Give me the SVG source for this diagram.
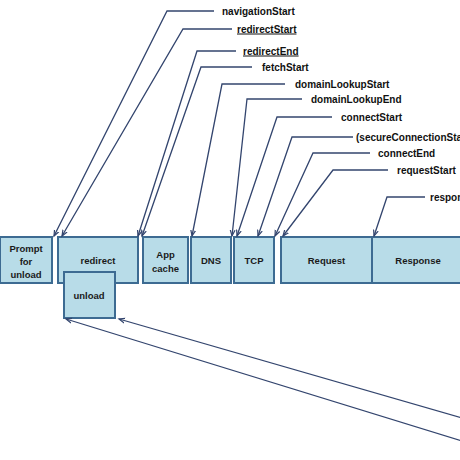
<svg xmlns="http://www.w3.org/2000/svg" width="460" height="460" viewBox="0 0 460 460">
<style>
.box{fill:#b8dce8;stroke:#3d6b92;stroke-width:2}
.bl{font-family:"Liberation Sans",Arial,sans-serif;font-weight:bold;font-size:9.5px;fill:#1a1a1a;text-anchor:middle}
.lb{font-family:"Liberation Sans",Arial,sans-serif;font-weight:bold;font-size:10px;fill:#111}
.u{text-decoration:underline}
.c{fill:none;stroke:#33456e;stroke-width:1.3;marker-end:url(#ah)}
</style>
<defs>
<marker id="ah" markerUnits="userSpaceOnUse" markerWidth="8" markerHeight="8" refX="6" refY="3" orient="auto" viewBox="0 0 8 6">
<path d="M0,0.6 L6,3 L0,5.4" fill="none" stroke="#33456e" stroke-width="1.2"/>
</marker>
</defs>
<rect width="460" height="460" fill="#fff"/>
<g id="prompt"><rect class="box" x="0" y="237" width="52" height="46"/><text class="bl" x="26" y="251.5">Prompt</text><text class="bl" x="26" y="264.5">for</text><text class="bl" x="26" y="277.5">unload</text></g>
<g id="redirect"><rect class="box" x="58" y="237" width="80" height="46"/><text class="bl" x="98" y="263.5">redirect</text></g>
<g id="unload"><rect class="box" x="64" y="272" width="51" height="46"/><text class="bl" x="89" y="298.5">unload</text></g>
<g id="appcache"><rect class="box" x="143" y="237" width="45" height="46"/><text class="bl" x="165.5" y="257.5">App</text><text class="bl" x="165.5" y="271.5">cache</text></g>
<g id="dns"><rect class="box" x="191" y="237" width="40" height="46"/><text class="bl" x="211" y="263.5">DNS</text></g>
<g id="tcp"><rect class="box" x="234" y="237" width="40" height="46"/><text class="bl" x="254" y="263.5">TCP</text></g>
<g id="request"><rect class="box" x="281" y="237" width="91" height="46"/><text class="bl" x="326.5" y="263.5">Request</text></g>
<g id="response"><rect class="box" x="372" y="237" width="94" height="46"/><text class="bl" x="418" y="263.5">Response</text></g>
<g id="labels">
<text class="lb" x="222" y="14.5">navigationStart</text>
<text class="lb u" x="237" y="32.5">redirectStart</text>
<text class="lb u" x="243" y="54.5">redirectEnd</text>
<text class="lb" x="262" y="70.5">fetchStart</text>
<text class="lb" x="295" y="87.5">domainLookupStart</text>
<text class="lb" x="311" y="102.5">domainLookupEnd</text>
<text class="lb" x="341" y="120.5">connectStart</text>
<text class="lb" x="356" y="140.5">(secureConnectionStart)</text>
<text class="lb" x="378" y="156.5">connectEnd</text>
<text class="lb" x="397" y="173.5">requestStart</text>
<text class="lb" x="430" y="200.5">responseStart</text>
</g>
<g id="connectors">
<path class="c" d="M214,11 L167,11 L54,236"/>
<path class="c" d="M232,29 L183,29 L62,236"/>
<path class="c" d="M236,51 L197,51 L138,236"/>
<path class="c" d="M252,67 L201,67 L142,236"/>
<path class="c" d="M285,84 L222,84 L192,236"/>
<path class="c" d="M302,99 L247,99 L232,236"/>
<path class="c" d="M332,117 L277,117 L237,236"/>
<path class="c" d="M353,137 L292,137 L258,236"/>
<path class="c" d="M370,153 L313,153 L275,236"/>
<path class="c" d="M388,170 L333,170 L283,236"/>
<path class="c" d="M425,197 L387,197 L374,236"/>
<path class="c" d="M462,441 L66,319"/>
<path class="c" d="M462,418 L119,319"/>
</g>
</svg>
